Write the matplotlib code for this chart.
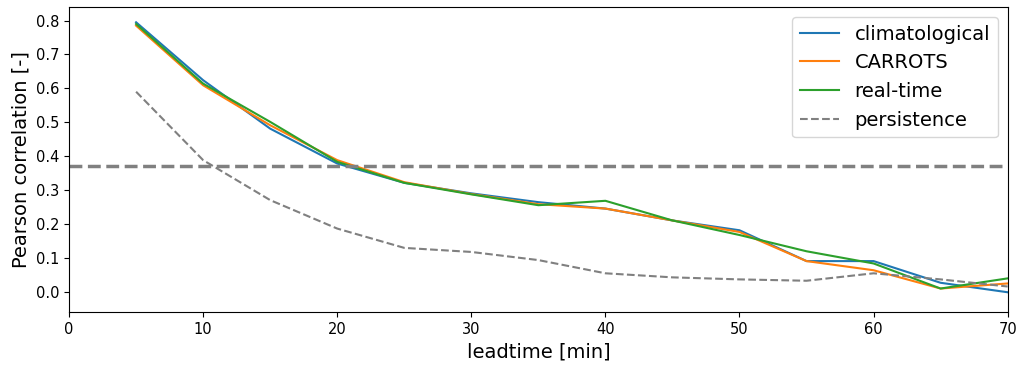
import matplotlib
matplotlib.use("Agg")
import matplotlib.pyplot as plt

leadtime = [5, 10, 15, 20, 25, 30, 35, 40, 45, 50, 55, 60, 65, 70]
climatological = [0.795, 0.624, 0.481, 0.378, 0.321, 0.290, 0.264, 0.245, 0.210, 0.181, 0.090, 0.090, 0.026, -0.002]
carrots = [0.785, 0.609, 0.491, 0.388, 0.323, 0.288, 0.258, 0.245, 0.210, 0.176, 0.090, 0.063, 0.009, 0.024]
realtime = [0.790, 0.614, 0.501, 0.383, 0.321, 0.287, 0.255, 0.268, 0.210, 0.167, 0.119, 0.083, 0.009, 0.039]
persistence = [0.590, 0.388, 0.270, 0.186, 0.129, 0.117, 0.093, 0.054, 0.042, 0.036, 0.032, 0.054, 0.036, 0.015]
threshold = 0.37

fig = plt.figure(figsize=(10.23, 3.70), dpi=100)
ax = fig.add_axes([0.0675, 0.157, 0.9175, 0.824])

ax.plot(leadtime, climatological, color="#1f77b4", lw=1.5, label="climatological")
ax.plot(leadtime, carrots, color="#ff7f0e", lw=1.5, label="CARROTS")
ax.plot(leadtime, realtime, color="#2ca02c", lw=1.5, label="real-time")
ax.plot(leadtime, persistence, color="gray", lw=1.5, ls="--", label="persistence")
ax.axhline(threshold, color="gray", lw=2.5, ls="--")

ax.set_xlim(0, 70)
ax.set_ylim(-0.06, 0.84)
ax.set_yticks([0.0, 0.1, 0.2, 0.3, 0.4, 0.5, 0.6, 0.7, 0.8])
ax.tick_params(labelsize=10.5)
ax.set_xlabel("leadtime [min]", fontsize=14)
ax.set_ylabel("Pearson correlation [-]", fontsize=14)
ax.legend(loc="upper right", fontsize=14)

fig.savefig("out.png", dpi=100)
